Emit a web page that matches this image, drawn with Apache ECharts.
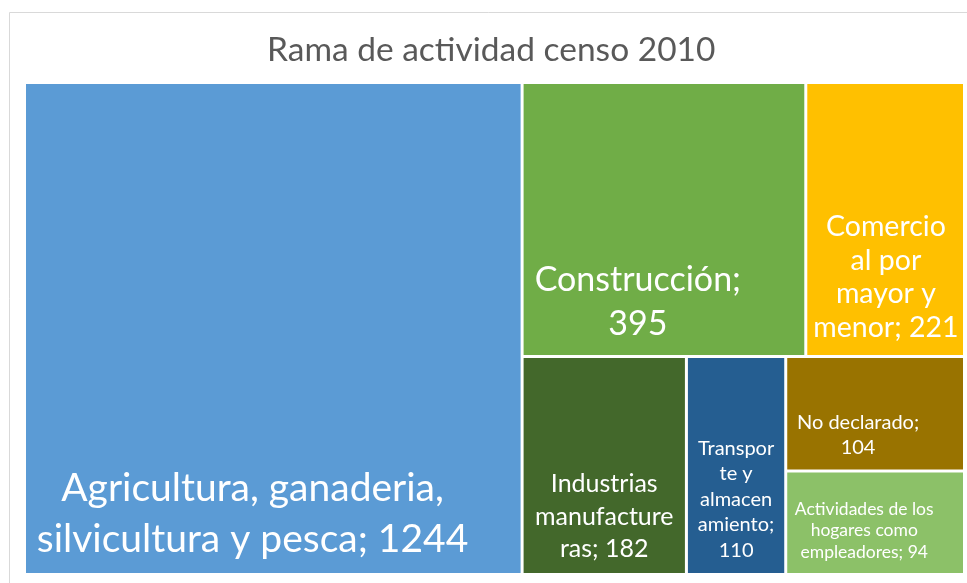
<!DOCTYPE html>
<html>
<head>
<meta charset="utf-8">
<script src="https://cdn.jsdelivr.net/npm/echarts@6/dist/echarts.min.js"></script>
<style>
  html, body { margin: 0; padding: 0; background: #fff; }
  #chart { width: 967px; height: 583px; }
</style>
</head>
<body>
<div id="chart"></div>
<script>
// datos del censo 2010
var names = [
  'Agricultura, ganaderia, silvicultura y pesca',
  'Construcción',
  'Comercio al por mayor y menor',
  'Industrias manufactureras',
  'Transporte y almacenamiento',
  'No declarado',
  'Actividades de los hogares como empleadores'
];
var values = [1244, 395, 221, 182, 110, 104, 94];
// texto de etiqueta tal como se corta en la imagen
var labelTexts = [
  'Agricultura, ganaderia,\nsilvicultura y pesca; 1244',
  'Construcción;\n395',
  'Comercio\nal por\nmayor y\nmenor; 221',
  'Industrias\nmanufacture\nras; 182',
  'Transpor\nte y\nalmacen\namiento;\n110',
  'No declarado;\n104',
  'Actividades de los\nhogares como\nempleadores; 94'
];
var colors = ['#5B9BD5', '#70AD47', '#FFC000', '#43682B', '#255E91', '#997300', '#8CC168'];

// tamaño y posicion de cada etiqueta
var labelCfg = [
  { fontSize: 39, lineHeight: 51, pos: ['45.8%', '88%'] },
  { fontSize: 34, lineHeight: 44, pos: ['40.7%', '80.6%'] },
  { fontSize: 28.5, lineHeight: 33.5, pos: ['50.5%', '71.4%'] },
  { fontSize: 25, lineHeight: 32.5, pos: ['50%', '73.7%'] },
  { fontSize: 20, lineHeight: 25.5, pos: ['50%', '65.8%'] },
  { fontSize: 20, lineHeight: 24.5, pos: ['40.3%', '69%'] },
  { fontSize: 17.5, lineHeight: 21.8, pos: ['43.8%', '58%'] }
];

function leaf(i) {
  return {
    name: names[i],
    value: values[i],
    itemStyle: { color: colors[i], borderWidth: 0 },
    label: {
      show: true,
      formatter: labelTexts[i],
      position: labelCfg[i].pos,
      align: 'center',
      verticalAlign: 'middle',
      fontSize: labelCfg[i].fontSize,
      lineHeight: labelCfg[i].lineHeight
    }
  };
}

// los dos ultimos van juntos en una columna
var treeData = [leaf(0), leaf(1), leaf(2), leaf(3), leaf(4), {
  name: 'grupo',
  itemStyle: { borderWidth: 0, gapWidth: 3, borderColor: '#fff' },
  children: [leaf(5), leaf(6)]
}];

var myChart = echarts.init(document.getElementById('chart'));
var option = {
  backgroundColor: '#fff',
  animation: false,
  title: {
    text: 'Rama de actividad censo 2010',
    left: 267,
    top: 33,
    padding: 0,
    textStyle: { color: '#595959', fontFamily: 'Lato', fontSize: 33.5, fontWeight: 'normal' }
  },
  graphic: [{
    type: 'rect',
    shape: { x: 9.5, y: 12.5, width: 1000, height: 620 },
    style: { fill: 'none', stroke: '#D9D9D9', lineWidth: 1 },
    silent: true
  }],
  series: [{
    type: 'treemap',
    left: 26,
    top: 84,
    width: 937,
    height: 489,
    sort: false,
    squareRatio: 1,
    roam: false,
    nodeClick: false,
    breadcrumb: { show: false },
    itemStyle: { borderWidth: 0, gapWidth: 3, borderColor: '#fff' },
    label: {
      show: true,
      color: '#fff',
      fontFamily: 'Lato',
      padding: 0,
      overflow: 'none',
      lineOverflow: 'none'
    },
    upperLabel: { show: false },
    emphasis: { disabled: true },
    data: treeData
  }]
};
myChart.setOption(option);
</script>
</body>
</html>
